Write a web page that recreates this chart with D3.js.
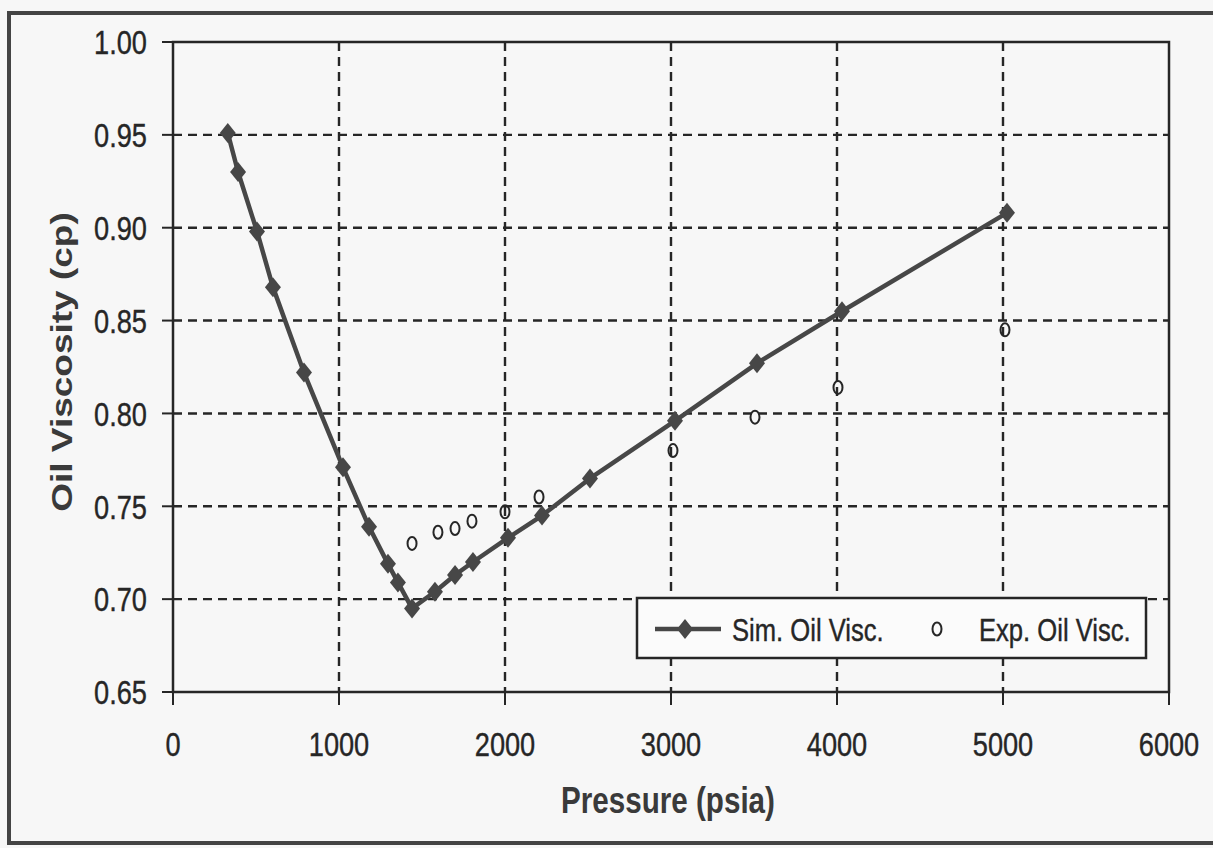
<!DOCTYPE html>
<html>
<head>
<meta charset="utf-8">
<script src="https://cdn.jsdelivr.net/npm/d3@7"></script>
<style>
  body { margin: 0; background: #f7f7f7; }
  svg { display: block; }
</style>
</head>
<body>
<svg id="chart"></svg>
<script>

const simPressure = [330, 392, 506, 602, 789, 1024, 1181, 1295, 1355, 1440, 1578, 1699, 1807, 2018, 2223, 2512, 3024, 3518, 4030, 5024]
const simVisc     = [0.951, 0.930, 0.898, 0.868, 0.822, 0.771, 0.739, 0.719, 0.709, 0.695, 0.704, 0.713, 0.720, 0.733, 0.745, 0.765, 0.796, 0.827, 0.855, 0.908]

const expPressure = [1440, 1596, 1699, 1801, 2000, 2205, 3012, 3506, 4006, 5012]
const expVisc     = [0.730, 0.736, 0.738, 0.742, 0.747, 0.755, 0.780, 0.798, 0.814, 0.845]

const xTicks = [0, 1000, 2000, 3000, 4000, 5000, 6000]
const yTicks = [0.65, 0.70, 0.75, 0.80, 0.85, 0.90, 0.95, 1.00]

const seriesNames = ["Sim. Oil Visc.", "Exp. Oil Visc."]

const width = 1213
const height = 848
const margin = { top: 42, right: 44, bottom: 156, left: 173 }
const ink = "#262626"
const markInk = "#474747"
const squeeze = 0.8

const svg = d3.select("#chart")
              .attr("width", width)
              .attr("height", height)
              .attr("font-family", "'Liberation Sans', Arial, sans-serif")

const x = d3.scaleLinear()
            .domain([0, 6000])
            .range([margin.left, width - margin.right])

const y = d3.scaleLinear()
            .domain([0.65, 1.00])
            .range([height - margin.bottom, margin.top])

// scanned page frame
svg.append("path")
   .attr("d", `M${width + 5},13 H9 V843 H${width + 5}`)
   .attr("fill", "none")
   .attr("stroke", "#444")
   .attr("stroke-width", 4)

// text squeezed horizontally like the scan
function label(g, px, py, str, opts)
{
  const t = g.append("g")
             .attr("transform", `translate(${px},${py}) ${opts.rotate ? "rotate(-90) scale(1," + squeeze + ")" : "scale(" + squeeze + ",1)"}`)
             .append("text")
             .attr("text-anchor", opts.anchor || "middle")
             .attr("font-size", opts.size)
             .attr("font-weight", opts.bold ? "bold" : "normal")
             .attr("fill", opts.bold ? "#3a3a3a" : ink)
             .attr("stroke", opts.bold ? "none" : ink)
             .attr("stroke-width", 0.4)
             .text(str)
  if (opts.dy) t.attr("dy", opts.dy)
  return t
}

const grid = svg.append("g")
                .attr("stroke", ink)
                .attr("stroke-width", 2.4)
                .attr("stroke-dasharray", "9,6")

grid.selectAll(".gy")
    .data(yTicks.slice(1, -1))
    .enter()
    .append("line")
    .attr("x1", x(0))
    .attr("x2", x(6000))
    .attr("y1", d => y(d))
    .attr("y2", d => y(d))

grid.selectAll(".gx")
    .data(xTicks.slice(1, -1))
    .enter()
    .append("line")
    .attr("y1", y(1.00))
    .attr("y2", y(0.65))
    .attr("x1", d => x(d))
    .attr("x2", d => x(d))

const axes = svg.append("g")
                .attr("stroke", ink)

axes.append("rect")
    .attr("x", x(0))
    .attr("y", y(1.00))
    .attr("width", x(6000) - x(0))
    .attr("height", y(0.65) - y(1.00))
    .attr("fill", "none")
    .attr("stroke-width", 2.5)

axes.selectAll(".ty")
    .data(yTicks)
    .enter()
    .append("line")
    .attr("x1", x(0) - 11)
    .attr("x2", x(0))
    .attr("y1", d => y(d))
    .attr("y2", d => y(d))
    .attr("stroke-width", 2)

axes.selectAll(".tx")
    .data(xTicks)
    .enter()
    .append("line")
    .attr("x1", d => x(d))
    .attr("x2", d => x(d))
    .attr("y1", y(0.65))
    .attr("y2", y(0.65) + 13)
    .attr("stroke-width", 2)

const tickText = svg.append("g")

yTicks.forEach(d => label(tickText, x(0) - 26, y(d), d3.format(".2f")(d), { size: 34, anchor: "end", dy: "0.36em" }))
xTicks.forEach(d => label(tickText, x(d), 756, d, { size: 34 }))

label(svg, 668, 813, "Pressure (psia)", { size: 37, bold: true })
label(svg, 72, 362, "Oil Viscosity (cp)", { size: 37, bold: true, rotate: true })

const simData = simPressure.map((p, i) => [p, simVisc[i]])
const expData = expPressure.map((p, i) => [p, expVisc[i]])

const line = d3.line()
               .x(d => x(d[0]))
               .y(d => y(d[1]))

const diamond = "M0,-10 L8,0 L0,10 L-8,0 Z"

svg.append("path")
   .datum(simData)
   .attr("d", line)
   .attr("fill", "none")
   .attr("stroke", markInk)
   .attr("stroke-width", 4.5)
   .attr("stroke-linejoin", "round")

svg.selectAll(".simPt")
   .data(simData)
   .enter()
   .append("path")
   .attr("class", "simPt")
   .attr("d", diamond)
   .attr("transform", d => `translate(${x(d[0])},${y(d[1])})`)
   .attr("fill", markInk)

svg.selectAll(".expPt")
   .data(expData)
   .enter()
   .append("ellipse")
   .attr("class", "expPt")
   .attr("cx", d => x(d[0]))
   .attr("cy", d => y(d[1]))
   .attr("rx", 4.5)
   .attr("ry", 6.5)
   .attr("fill", "none")
   .attr("stroke", ink)
   .attr("stroke-width", 2)

// legend
const legend = svg.append("g")

legend.append("rect")
      .attr("x", 637)
      .attr("y", 598)
      .attr("width", 509)
      .attr("height", 60)
      .attr("fill", "#fbfbfb")
      .attr("stroke", ink)
      .attr("stroke-width", 2.5)

legend.append("line")
      .attr("x1", 655)
      .attr("x2", 721)
      .attr("y1", 629)
      .attr("y2", 629)
      .attr("stroke", markInk)
      .attr("stroke-width", 4.5)

legend.append("path")
      .attr("d", diamond)
      .attr("transform", "translate(685,629)")
      .attr("fill", markInk)

legend.append("ellipse")
      .attr("cx", 937)
      .attr("cy", 629)
      .attr("rx", 4.5)
      .attr("ry", 6.5)
      .attr("fill", "none")
      .attr("stroke", ink)
      .attr("stroke-width", 2)

label(legend, 732, 641, seriesNames[0], { size: 32, anchor: "start" })
label(legend, 979, 641, seriesNames[1], { size: 32, anchor: "start" })

</script>
</body>
</html>
